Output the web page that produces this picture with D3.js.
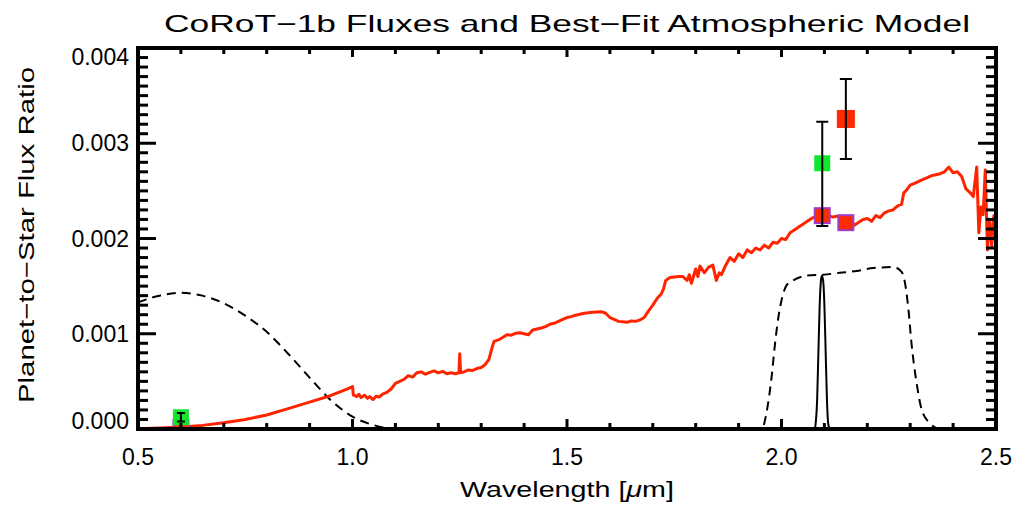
<!DOCTYPE html>
<html>
<head>
<meta charset="utf-8">
<script src="https://cdn.jsdelivr.net/npm/d3@7"></script>
<style>
  body { margin: 0; background: #fff; }
</style>
</head>
<body>
<div id="chart-area"></div>
<script>
const W = 1032;
const H = 506;
const MARGIN = { LEFT: 138, RIGHT: 36, TOP: 48, BOTTOM: 77 };
const FONT = "'Liberation Sans', Arial, sans-serif";

// model spectrum (wavelength in micron, flux ratio in units of 1e-3)
const specWave = [
  0.50, 0.55, 0.60, 0.65, 0.70, 0.75, 0.80, 0.85, 0.90, 0.95, 0.99, 1.000,
  1.002, 1.010, 1.015, 1.020, 1.028, 1.035, 1.040, 1.048, 1.055, 1.062, 1.070, 1.080,
  1.090, 1.100, 1.110, 1.120, 1.130, 1.140, 1.150, 1.160, 1.170, 1.180, 1.190, 1.200,
  1.210, 1.220, 1.230, 1.240, 1.248, 1.250, 1.252, 1.260, 1.270, 1.280, 1.290, 1.300,
  1.310, 1.318, 1.325, 1.330, 1.340, 1.350, 1.360, 1.370, 1.380, 1.390, 1.400, 1.410,
  1.420, 1.430, 1.440, 1.450, 1.460, 1.470, 1.480, 1.490, 1.500, 1.510, 1.520, 1.530,
  1.540, 1.550, 1.560, 1.570, 1.580, 1.590, 1.600, 1.610, 1.620, 1.630, 1.640, 1.650,
  1.660, 1.670, 1.680, 1.690, 1.700, 1.710, 1.720, 1.725, 1.730, 1.740, 1.750, 1.760,
  1.770, 1.780, 1.785, 1.790, 1.800, 1.805, 1.810, 1.820, 1.830, 1.840, 1.848, 1.855,
  1.860, 1.870, 1.880, 1.890, 1.900, 1.910, 1.920, 1.930, 1.940, 1.950, 1.960, 1.970,
  1.980, 1.990, 2.000, 2.010, 2.020, 2.030, 2.040, 2.050, 2.060, 2.070, 2.080, 2.090,
  2.100, 2.110, 2.120, 2.130, 2.140, 2.150, 2.160, 2.170, 2.180, 2.190, 2.200, 2.210,
  2.220, 2.230, 2.240, 2.250, 2.260, 2.270, 2.280, 2.285, 2.290, 2.300, 2.310, 2.320,
  2.330, 2.340, 2.350, 2.360, 2.370, 2.380, 2.390, 2.400, 2.410, 2.420, 2.430, 2.440,
  2.447, 2.455, 2.460, 2.465, 2.470, 2.475, 2.480, 2.485, 2.490, 2.495, 2.500
];
const specFlux = [
  0.003, 0.010, 0.020, 0.038, 0.065, 0.100, 0.147, 0.214, 0.282, 0.352, 0.425, 0.445,
  0.357, 0.340, 0.365, 0.330, 0.355, 0.322, 0.340, 0.310, 0.345, 0.335, 0.365, 0.385,
  0.420, 0.480, 0.500, 0.520, 0.560, 0.545, 0.590, 0.600, 0.575, 0.595, 0.610, 0.590,
  0.605, 0.580, 0.590, 0.580, 0.590, 0.790, 0.590, 0.600, 0.620, 0.615, 0.635, 0.645,
  0.680, 0.730, 0.850, 0.920, 0.935, 0.960, 0.990, 0.985, 1.005, 1.010, 1.000, 0.990,
  1.040, 1.050, 1.060, 1.075, 1.100, 1.110, 1.130, 1.150, 1.170, 1.180, 1.195, 1.205,
  1.215, 1.220, 1.225, 1.228, 1.232, 1.215, 1.170, 1.150, 1.130, 1.125, 1.120, 1.135,
  1.130, 1.145, 1.170, 1.240, 1.300, 1.370, 1.420, 1.470, 1.560, 1.590, 1.595, 1.600,
  1.600, 1.560, 1.620, 1.530, 1.680, 1.600, 1.710, 1.640, 1.700, 1.720, 1.560, 1.640,
  1.620, 1.720, 1.800, 1.760, 1.840, 1.800, 1.880, 1.850, 1.900, 1.880, 1.930, 1.900,
  1.960, 1.950, 2.000, 1.990, 2.060, 2.090, 2.120, 2.150, 2.180, 2.210, 2.235, 2.245,
  2.250, 2.240, 2.225, 2.235, 2.200, 2.180, 2.200, 2.140, 2.170, 2.200, 2.210, 2.180,
  2.240, 2.220, 2.270, 2.290, 2.300, 2.340, 2.360, 2.480, 2.500, 2.560, 2.580, 2.600,
  2.620, 2.640, 2.660, 2.670, 2.680, 2.700, 2.750, 2.690, 2.700, 2.650, 2.520, 2.480,
  2.440, 2.750, 2.060, 2.330, 2.250, 2.720, 1.880, 2.200, 1.920, 2.240, 2.120
];

// CoRoT bandpass (dashed)
const corotWave = [0.50, 0.55, 0.60, 0.65, 0.70, 0.75, 0.80, 0.85, 0.90, 0.95, 1.00, 1.05, 1.10, 1.15];
const corotFlux = [1.33, 1.40, 1.43, 1.40, 1.32, 1.19, 1.02, 0.79, 0.54, 0.30, 0.13, 0.04, 0.00, 0.00];

// Ks bandpass (dashed)
const ksWave = [1.930, 1.954, 1.965, 1.977, 1.985, 1.993, 2.000, 2.012, 2.024, 2.059, 2.098, 2.136,
  2.175, 2.214, 2.261, 2.280, 2.288, 2.296, 2.303, 2.315, 2.327, 2.346, 2.370, 2.400];
const ksFlux = [0.00, 0.00, 0.17, 0.55, 0.90, 1.18, 1.35, 1.51, 1.55, 1.61, 1.62, 1.64,
  1.66, 1.69, 1.70, 1.65, 1.53, 1.25, 0.90, 0.48, 0.20, 0.06, 0.00, 0.00];

// 2.095 micron narrow-band filter (solid)
const nbWave = [2.078, 2.083, 2.086, 2.089, 2.092, 2.094, 2.097, 2.100, 2.103, 2.106, 2.109, 2.112];
const nbFlux = [0.00, 0.30, 0.80, 1.30, 1.56, 1.61, 1.56, 1.30, 0.80, 0.30, 0.05, 0.00];

// measured fluxes with error ranges
const obsWave = [0.600, 2.095, 2.150];
const obsFlux = [0.123, 2.79, 3.255];
const obsLow = [0.080, 2.131, 2.835];
const obsHigh = [0.168, 3.226, 3.675];
const obsColor = ["#12e62c", "#12e62c", "#ff2a00"];

// band-integrated model
const bandWave = [0.600, 2.095, 2.150];
const bandFlux = [0.015, 2.24, 2.166];

const xMajorTicks = [0.5, 1.0, 1.5, 2.0, 2.5];
const yMajorTicks = [0, 0.001, 0.002, 0.003, 0.004];

const toRatio = (v) => v / 1000;

const svg = d3
  .select("#chart-area")
  .append("svg")
  .attr("width", W)
  .attr("height", H);

const x = d3.scaleLinear().domain([0.5, 2.5]).range([MARGIN.LEFT, W - MARGIN.RIGHT]);
const y = d3.scaleLinear().domain([0, 0.004]).range([H - MARGIN.BOTTOM, MARGIN.TOP]);
const x0 = x(0.5), x1 = x(2.5), y0 = y(0), y1 = y(0.004);

const plot = svg.append("g");
plot
  .append("clipPath")
  .attr("id", "clip")
  .append("rect")
  .attr("x", x0)
  .attr("y", y1)
  .attr("width", x1 - x0)
  .attr("height", y0 - y1);

const line = d3
  .line()
  .x((d) => x(d[0]))
  .y((d) => y(toRatio(d[1])));
const smooth = d3
  .line()
  .curve(d3.curveMonotoneX)
  .x((d) => x(d[0]))
  .y((d) => y(toRatio(d[1])));

const zip = (a, b) => a.map((v, i) => [v, b[i]]);

// bandpasses
plot.append("path")
  .attr("d", smooth(zip(corotWave, corotFlux)))
  .attr("clip-path", "url(#clip)")
  .attr("fill", "none")
  .attr("stroke", "#000")
  .attr("stroke-width", 2)
  .attr("stroke-dasharray", "9,6");

plot.append("path")
  .attr("d", smooth(zip(ksWave, ksFlux)))
  .attr("fill", "none")
  .attr("stroke", "#000")
  .attr("stroke-width", 2)
  .attr("stroke-dasharray", "9,6");

plot.append("path")
  .attr("d", smooth(zip(nbWave, nbFlux)))
  .attr("fill", "none")
  .attr("stroke", "#000")
  .attr("stroke-width", 2);

// model spectrum
plot.append("path")
  .attr("d", line(zip(specWave, specFlux)))
  .attr("clip-path", "url(#clip)")
  .attr("fill", "none")
  .attr("stroke", "#ff2400")
  .attr("stroke-width", 3)
  .attr("stroke-linejoin", "round");

// band-integrated model points
const bs = 15;
plot.selectAll(".band")
  .data(bandWave)
  .join("rect")
  .attr("class", "band")
  .attr("x", (d) => x(d) - bs / 2)
  .attr("y", (d, i) => y(toRatio(bandFlux[i])) - bs / 2)
  .attr("width", bs)
  .attr("height", (d, i) => Math.min(bs, y0 - (y(toRatio(bandFlux[i])) - bs / 2)))
  .attr("fill", "#ff2a00")
  .attr("stroke", "#a03cc8")
  .attr("stroke-width", 2);

// observed points
const os = [16, 16, 18];
plot.selectAll(".obs")
  .data(obsWave)
  .join("rect")
  .attr("class", "obs")
  .attr("x", (d, i) => x(d) - os[i] / 2)
  .attr("y", (d, i) => y(toRatio(obsFlux[i])) - os[i] / 2)
  .attr("width", (d, i) => os[i])
  .attr("height", (d, i) => os[i])
  .attr("fill", (d, i) => obsColor[i]);

// error bars
const ep = d3.path();
obsWave.forEach((d, i) => {
  const c = i === 0 ? 4 : 6;
  ep.moveTo(x(d), y(toRatio(obsLow[i]))); ep.lineTo(x(d), y(toRatio(obsHigh[i])));
  ep.moveTo(x(d) - c, y(toRatio(obsLow[i]))); ep.lineTo(x(d) + c, y(toRatio(obsLow[i])));
  ep.moveTo(x(d) - c, y(toRatio(obsHigh[i]))); ep.lineTo(x(d) + c, y(toRatio(obsHigh[i])));
});
plot.append("path")
  .attr("d", ep.toString())
  .attr("fill", "none")
  .attr("stroke", "#000")
  .attr("stroke-width", 2);

// ticks point inward on all four sides, drawn over the data like the frame
const xMinorTicks = d3.range(5, 26).map((v) => v / 10);
const yMinorTicks = d3.range(0, 41).map((v) => v / 10000);
const isMajor = (v, majors) => majors.some((m) => Math.abs(m - v) < 1e-9);

const tickG = svg.append("g").attr("fill", "#000");
tickG.selectAll(".xb").data(xMinorTicks).join("rect").attr("class", "xb")
  .attr("x", (d) => x(d) - 1.5).attr("width", 3)
  .attr("y", (d) => y0 - (isMajor(d, xMajorTicks) ? 10 : 6))
  .attr("height", (d) => (isMajor(d, xMajorTicks) ? 10 : 6));
tickG.selectAll(".xt").data(xMinorTicks).join("rect").attr("class", "xt")
  .attr("x", (d) => x(d) - 1.5).attr("width", 3)
  .attr("y", y1)
  .attr("height", (d) => (isMajor(d, xMajorTicks) ? 9 : 6));
tickG.selectAll(".yl").data(yMinorTicks).join("rect").attr("class", "yl")
  .attr("x", x0).attr("height", 3)
  .attr("y", (d) => y(d) - 1.5)
  .attr("width", (d) => (isMajor(d, yMajorTicks) ? 18 : 10));
tickG.selectAll(".yr").data(yMinorTicks).join("rect").attr("class", "yr")
  .attr("x", (d) => x1 - (isMajor(d, yMajorTicks) ? 18 : 10)).attr("height", 3)
  .attr("y", (d) => y(d) - 1.5)
  .attr("width", (d) => (isMajor(d, yMajorTicks) ? 18 : 10));

// frame as four filled bars
const fw = 4;
const frame = [
  [x0 - fw / 2, y1 - fw / 2, x1 - x0 + fw, fw],
  [x0 - fw / 2, y0 - fw / 2, x1 - x0 + fw, fw],
  [x0 - fw / 2, y1 - fw / 2, fw, y0 - y1 + fw],
  [x1 - fw / 2, y1 - fw / 2, fw, y0 - y1 + fw]
];
svg.append("g").attr("fill", "#000")
  .selectAll("rect").data(frame).join("rect")
  .attr("x", (d) => d[0]).attr("y", (d) => d[1])
  .attr("width", (d) => d[2]).attr("height", (d) => d[3]);

// tick labels
svg.selectAll(".xlab")
  .data(xMajorTicks)
  .join("text")
  .attr("class", "xlab")
  .attr("x", (d) => x(d))
  .attr("y", y0 + 36)
  .attr("text-anchor", "middle")
  .attr("font-family", FONT)
  .attr("font-size", 23)
  .text(d3.format(".1f"));

// end labels sit inside the frame like the original
svg.selectAll(".ylab")
  .data(yMajorTicks)
  .join("text")
  .attr("class", "ylab")
  .attr("x", x0 - 9)
  .attr("y", (d) => y(d) + 8 + (d === 0 ? -8 : d === 0.004 ? 9 : 0))
  .attr("text-anchor", "end")
  .attr("font-family", FONT)
  .attr("font-size", 23)
  .text(d3.format(".3f"));

// titles
svg.append("text")
  .attr("x", (x0 + x1) / 2)
  .attr("y", 32)
  .attr("text-anchor", "middle")
  .attr("font-family", FONT)
  .attr("font-size", 24)
  .attr("textLength", 806)
  .attr("lengthAdjust", "spacingAndGlyphs")
  .text("CoRoT−1b Fluxes and Best−Fit Atmospheric Model");

const xTitle = svg.append("text")
  .attr("x", (x0 + x1) / 2)
  .attr("y", 497)
  .attr("text-anchor", "middle")
  .attr("font-family", FONT)
  .attr("font-size", 22)
  .attr("textLength", 214)
  .attr("lengthAdjust", "spacingAndGlyphs");
xTitle.append("tspan").text("Wavelength [");
xTitle.append("tspan").attr("font-style", "italic").text("μ");
xTitle.append("tspan").text("m]");

svg.append("text")
  .attr("transform", `translate(34, 235) rotate(-90)`)
  .attr("text-anchor", "middle")
  .attr("font-family", FONT)
  .attr("font-size", 22)
  .attr("textLength", 336)
  .attr("lengthAdjust", "spacingAndGlyphs")
  .text("Planet−to−Star Flux Ratio");
</script>
</body>
</html>
